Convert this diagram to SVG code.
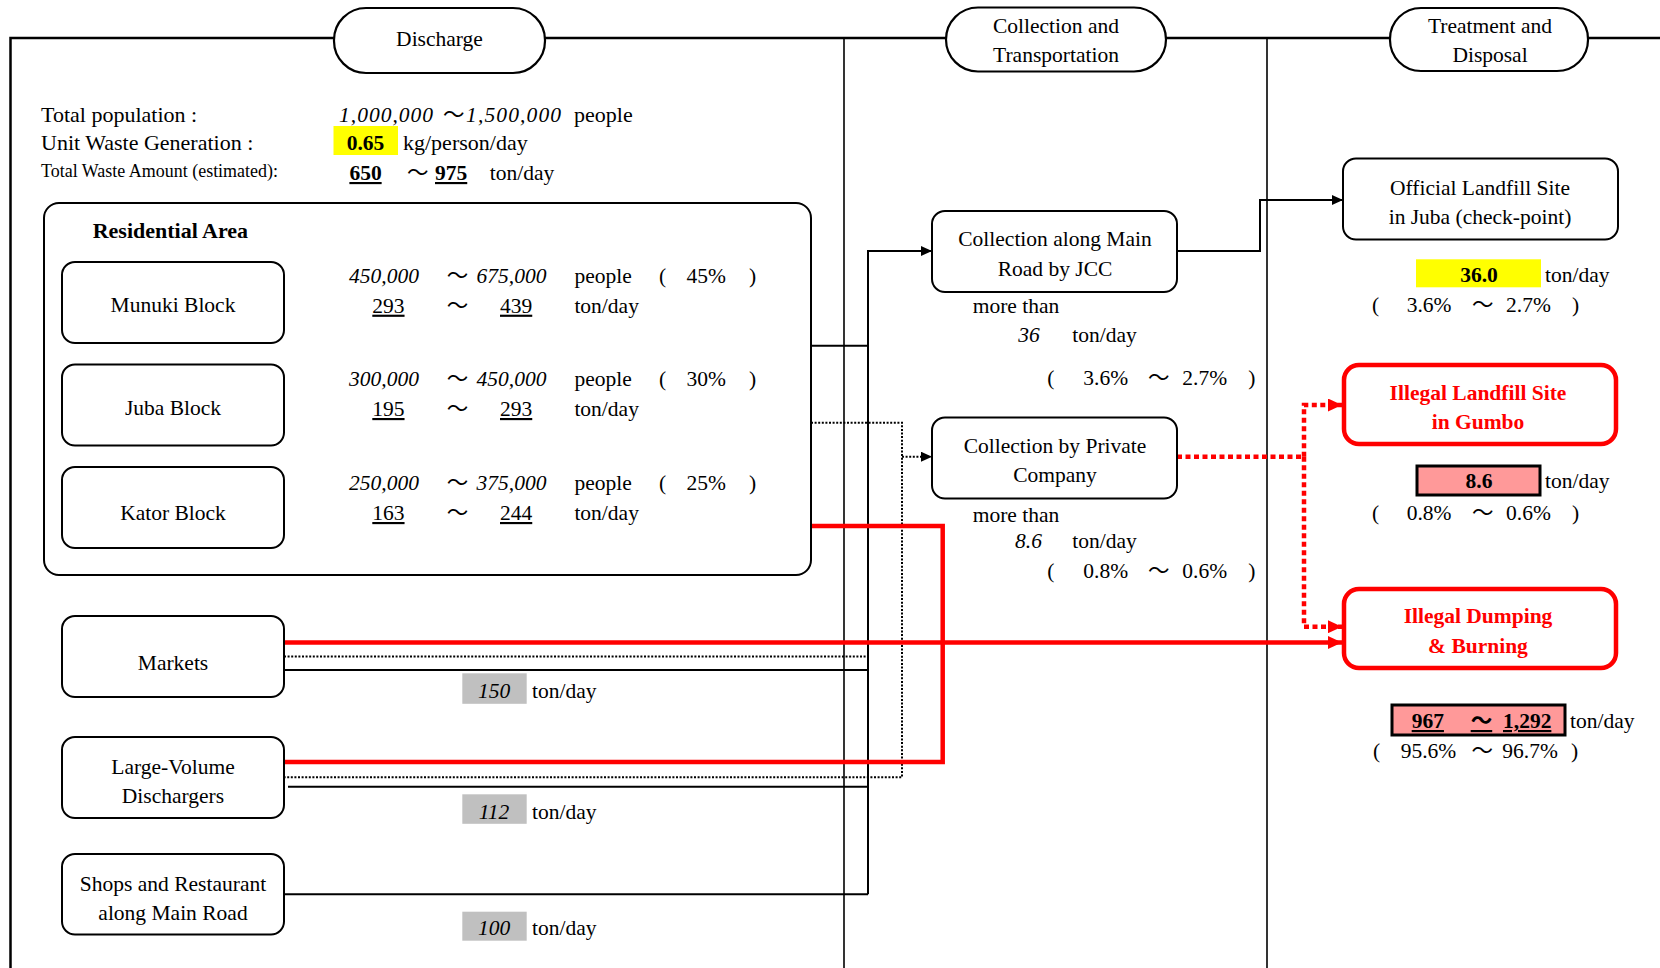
<svg xmlns="http://www.w3.org/2000/svg" width="1660" height="968" viewBox="0 0 1660 968">
<defs>
<style>
text{font-family:"Liberation Serif","Times New Roman","Noto Sans CJK JP",serif;font-size:21.5px;fill:#000}
.c{text-anchor:middle}
.i{font-style:italic}
.b{font-weight:bold}
.u{text-decoration:underline}
.r{fill:#ff0000}
.s22{font-size:22px}
.box{fill:#fff;stroke:#000;stroke-width:2}
.pill{fill:#fff;stroke:#000;stroke-width:2.2}
.red{fill:#fff;stroke:#ff0000;stroke-width:4.5}
.k{fill:none;stroke:#000;stroke-width:2}
.kd{fill:none;stroke:#000;stroke-width:2;stroke-dasharray:2 1.6}
.rs{fill:none;stroke:#ff0000;stroke-width:4.5}
.rd{fill:none;stroke:#ff0000;stroke-width:4.5;stroke-dasharray:5 3.5}
.pink{fill:#ff9999;stroke:#000;stroke-width:3}
</style>
<marker id="ak" markerUnits="userSpaceOnUse" markerWidth="11" markerHeight="10" refX="11" refY="5" orient="auto"><path d="M0,0 L11,5 L0,10 z" fill="#000"/></marker>
<marker id="ar" markerUnits="userSpaceOnUse" markerWidth="14" markerHeight="13" refX="14" refY="6.5" orient="auto"><path d="M0,0 L14,6.5 L0,13 z" fill="#ff0000"/></marker>
</defs>
<rect width="1660" height="968" fill="#fff"/>

<g id="frame">
<path d="M10.5 968 V38 H334 M545 38 H946 M1166 38 H1390 M1588 38 H1660" fill="none" stroke="#000" stroke-width="2.5"/>
<line x1="844" y1="38" x2="844" y2="968" stroke="#000" stroke-width="1.6"/>
<line x1="1267" y1="38" x2="1267" y2="968" stroke="#000" stroke-width="1.6"/>
</g>

<g id="connectors">
<path class="k" d="M811 345.7 H868"/>
<path class="k" d="M868 894.3 V251 H932" marker-end="url(#ak)"/>
<path class="k" d="M284 670 H868"/>
<path class="k" d="M288 786.7 H868"/>
<path class="k" d="M284 894.3 H868"/>
<path class="k" d="M1177 251 H1260 V200 H1343" marker-end="url(#ak)"/>
<path class="kd" d="M811 422.7 H902 V777.3 H284"/>
<path class="kd" d="M284 656.5 H868"/>
<path class="kd" d="M902 456.7 H932" marker-end="url(#ak)"/>
<path class="rs" d="M811 526 H942.7 V762 H284"/>
<path class="rs" d="M284 642.5 H1342" marker-end="url(#ar)"/>
<path class="rd" d="M1177 456.7 H1304"/>
<path class="rd" d="M1304 456.7 V405 H1342" marker-end="url(#ar)"/>
<path class="rd" d="M1304 456.7 V626.7 H1342" marker-end="url(#ar)"/>
</g>

<g id="hdr-discharge">
<rect class="pill" x="334" y="8" width="211" height="65" rx="32" ry="32"/>
<text class="c" x="439.5" y="46">Discharge</text>
</g>
<g id="hdr-collection">
<rect class="pill" x="946" y="7.5" width="220" height="64" rx="32" ry="32"/>
<text class="c" x="1056" y="33">Collection and</text>
<text class="c" x="1056" y="62">Transportation</text>
</g>
<g id="hdr-treatment">
<rect class="pill" x="1390" y="8" width="198" height="63" rx="31" ry="31"/>
<text class="c" x="1490" y="33">Treatment and</text>
<text class="c" x="1490" y="62">Disposal</text>
</g>

<g id="summary">
<text class="s22" x="41" y="121.5">Total population :</text>
<text class="i" x="339" y="121.5" textLength="94" lengthAdjust="spacing">1,000,000</text>
<text x="443" y="121.5">～</text>
<text class="i" x="466" y="121.5" textLength="95" lengthAdjust="spacing">1,500,000</text>
<text class="s22" x="574" y="121.5">people</text>
<text class="s22" x="41" y="150">Unit Waste Generation :</text>
<rect x="333.5" y="126" width="64.5" height="29" fill="#ffff00"/>
<text class="c b" x="365.5" y="150">0.65</text>
<text class="s22" x="403" y="150">kg/person/day</text>
<text x="41" y="176.5" style="font-size:18px" textLength="237" lengthAdjust="spacingAndGlyphs">Total Waste Amount (estimated):</text>
<text class="b u" x="349.4" y="180">650</text>
<text x="407" y="180">～</text>
<text class="b u" x="435" y="180">975</text>
<text x="489.7" y="180">ton/day</text>
</g>

<g id="residential-area">
<rect class="box" x="44" y="203" width="767" height="372" rx="15"/>
<text class="b" x="92.7" y="238" style="font-size:22px">Residential Area</text>
</g>

<g id="munuki">
<rect class="box" x="62" y="262" width="222" height="81" rx="13"/>
<text class="c" x="173" y="311.5">Munuki Block</text>
<text class="i" x="349" y="283">450,000</text><text x="446.7" y="283">～</text><text class="i" x="476.5" y="283">675,000</text>
<text x="574.4" y="283">people</text><text x="659" y="283">(</text><text x="686.6" y="283">45%</text><text x="749" y="283">)</text>
<text class="u" x="372.3" y="312.7">293</text><text x="446.7" y="312.7">～</text><text class="u" x="500" y="312.7">439</text><text x="574.4" y="312.7">ton/day</text>
</g>

<g id="juba">
<rect class="box" x="62" y="364.5" width="222" height="81" rx="13"/>
<text class="c" x="173" y="415">Juba Block</text>
<text class="i" x="349" y="386">300,000</text><text x="446.7" y="386">～</text><text class="i" x="476.5" y="386">450,000</text>
<text x="574.4" y="386">people</text><text x="659" y="386">(</text><text x="686.6" y="386">30%</text><text x="749" y="386">)</text>
<text class="u" x="372.3" y="416">195</text><text x="446.7" y="416">～</text><text class="u" x="500" y="416">293</text><text x="574.4" y="416">ton/day</text>
</g>

<g id="kator">
<rect class="box" x="62" y="467" width="222" height="81" rx="13"/>
<text class="c" x="173" y="520">Kator Block</text>
<text class="i" x="349" y="490">250,000</text><text x="446.7" y="490">～</text><text class="i" x="476.5" y="490">375,000</text>
<text x="574.4" y="490">people</text><text x="659" y="490">(</text><text x="686.6" y="490">25%</text><text x="749" y="490">)</text>
<text class="u" x="372.3" y="520">163</text><text x="446.7" y="520">～</text><text class="u" x="500" y="520">244</text><text x="574.4" y="520">ton/day</text>
</g>

<g id="markets">
<rect class="box" x="62" y="616" width="222" height="81" rx="13"/>
<text class="c" x="173" y="669.5">Markets</text>
<rect x="462.3" y="673.3" width="64.4" height="30.5" fill="#c0c0c0"/>
<text class="c i" x="494" y="698">150</text><text x="532" y="698">ton/day</text>
</g>

<g id="large-volume">
<rect class="box" x="62" y="737" width="222" height="81" rx="13"/>
<text class="c" x="173" y="773.5">Large-Volume</text>
<text class="c" x="173" y="802.5">Dischargers</text>
<rect x="462.3" y="794.3" width="64.4" height="29.5" fill="#c0c0c0"/>
<text class="c i" x="494" y="818.5">112</text><text x="532" y="818.5">ton/day</text>
</g>

<g id="shops">
<rect class="box" x="62" y="854" width="222" height="80.5" rx="13"/>
<text class="c" x="173" y="890.5">Shops and Restaurant</text>
<text class="c" x="173" y="920">along Main Road</text>
<rect x="462.3" y="911.7" width="64.4" height="29" fill="#c0c0c0"/>
<text class="c i" x="494" y="935">100</text><text x="532" y="935">ton/day</text>
</g>

<g id="jcc">
<rect class="box" x="932" y="211" width="245" height="81" rx="13"/>
<text class="c" x="1055" y="246">Collection along Main</text>
<text class="c" x="1055" y="276">Road by JCC</text>
<text x="972.7" y="312.7">more than</text>
<text class="i" x="1018.3" y="341.7">36</text><text x="1072.3" y="341.7">ton/day</text>
<text x="1047.3" y="385">(</text><text x="1083.3" y="385">3.6%</text><text x="1148" y="385">～</text><text x="1182.3" y="385">2.7%</text><text x="1248.3" y="385">)</text>
</g>

<g id="private">
<rect class="box" x="932" y="417.5" width="245" height="81" rx="13"/>
<text class="c" x="1055" y="453.3">Collection by Private</text>
<text class="c" x="1055" y="481.7">Company</text>
<text x="972.7" y="521.7">more than</text>
<text class="i" x="1015" y="548.3">8.6</text><text x="1072.3" y="548.3">ton/day</text>
<text x="1047.3" y="578.3">(</text><text x="1083.3" y="578.3">0.8%</text><text x="1148" y="578.3">～</text><text x="1182.3" y="578.3">0.6%</text><text x="1248.3" y="578.3">)</text>
</g>

<g id="official-landfill">
<rect class="box" x="1343" y="158.5" width="275" height="81" rx="13"/>
<text class="c" x="1480" y="195">Official Landfill Site</text>
<text class="c" x="1480" y="224">in Juba (check-point)</text>
<rect x="1416" y="259.3" width="125" height="28" fill="#ffff00"/>
<text class="c b" x="1479" y="282">36.0</text><text x="1545" y="282">ton/day</text>
<text x="1372" y="311.7">(</text><text x="1406.7" y="311.7">3.6%</text><text x="1472" y="311.7">～</text><text x="1506" y="311.7">2.7%</text><text x="1572" y="311.7">)</text>
</g>

<g id="illegal-landfill">
<rect class="red" x="1344" y="365" width="272" height="79" rx="15"/>
<text class="c b r" x="1478" y="400">Illegal Landfill Site</text>
<text class="c b r" x="1478" y="429.3">in Gumbo</text>
<rect class="pink" x="1417" y="466" width="123" height="29"/>
<text class="c b" x="1479" y="488">8.6</text><text x="1545" y="488">ton/day</text>
<text x="1372" y="520">(</text><text x="1406.7" y="520">0.8%</text><text x="1472" y="520">～</text><text x="1506" y="520">0.6%</text><text x="1572" y="520">)</text>
</g>

<g id="illegal-dumping">
<rect class="red" x="1344" y="589" width="272" height="79" rx="15"/>
<text class="c b r" x="1478" y="623.3">Illegal Dumping</text>
<text class="c b r" x="1478" y="652.7">&amp; Burning</text>
<rect class="pink" x="1392" y="705" width="173" height="30"/>
<text class="b u" x="1411.7" y="728">967</text><text class="b u" x="1470.7" y="728">～</text><text class="b u" x="1503" y="728">1,292</text>
<text x="1570" y="728">ton/day</text>
<text x="1373" y="758">(</text><text x="1400.7" y="758">95.6%</text><text x="1471.6" y="758">～</text><text x="1502.3" y="758">96.7%</text><text x="1571" y="758">)</text>
</g>
</svg>
